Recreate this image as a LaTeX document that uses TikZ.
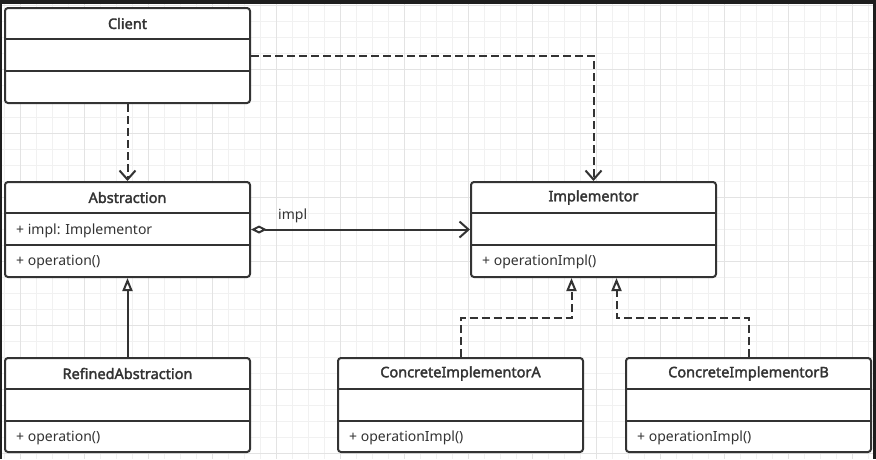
\documentclass[tikz,border=0pt]{standalone}
\usepackage{fontspec}
\setmainfont{Noto Sans}[AutoFakeBold=2.2]
\usetikzlibrary{arrows.meta,positioning,calc}

\definecolor{umlline}{HTML}{333333}
\definecolor{umltext}{HTML}{333333}
\definecolor{gridminor}{HTML}{F1F1F1}
\definecolor{gridmajor}{HTML}{E3E3E3}
\definecolor{framedark}{HTML}{1E1E1E}

\tikzset{
  classbox/.style={draw=umlline, line width=2pt, rounded corners=3pt,
    minimum width=245pt, minimum height=95pt, inner sep=0pt},
  classtitle/.style={font=\fontsize{14.5}{16}\selectfont\bfseries, text=umltext, inner sep=0pt},
  classmember/.style={font=\fontsize{14}{16}\selectfont, text=umltext, anchor=west, inner sep=0pt},
  divider/.style={draw=umlline, line width=2pt},
  solidline/.style={draw=umlline, line width=2pt},
  depline/.style={draw=umlline, line width=2pt, dash pattern=on 8pt off 4pt},
  openhead/.style={-{Straight Barb[length=9pt,width=16pt]}},
  inherithead/.style={-{Triangle[open,length=13pt,width=10pt,fill=white]}},
}

\begin{document}
\begin{tikzpicture}[x=1pt,y=-1pt]
  \useasboundingbox (0,0) rectangle (876,459);
  % background grid
  \fill[white] (0,0) rectangle (876,459);
  \foreach \gx in {0,...,54} \draw[gridminor, line width=0.8pt] ({4.7+16*\gx},0) -- ({4.7+16*\gx},459);
  \foreach \gy in {0,...,28} \draw[gridminor, line width=0.8pt] (0,{5+16*\gy}) -- (876,{5+16*\gy});
  \foreach \gx in {0,...,13} \draw[gridmajor, line width=0.8pt] ({20.7+64*\gx},0) -- ({20.7+64*\gx},459);
  \foreach \gy in {0,...,7} \draw[gridmajor, line width=0.8pt] (0,{5+64*\gy}) -- (876,{5+64*\gy});
  \fill[framedark] (0,0) rectangle (876,4);
  \fill[framedark] (873,0) rectangle (876,459);
  \fill[framedark] (0,0) rectangle (1.5,459);

  % class boxes
  \node[classbox, fill=white] (client) at (127.5,55.5) {};
  \node[classbox, fill=white] (abstraction) at (127.5,229.5) {};
  \node[classbox, fill=white] (implementor) at (593.5,229.5) {};
  \node[classbox, fill=white, minimum height=94pt] (refined) at (127.5,405) {};
  \node[classbox, fill=white, minimum height=94pt] (concrete_a) at (460.5,405) {};
  \node[classbox, fill=white, minimum height=94pt] (concrete_b) at (748.5,405) {};

  % compartments
  \foreach \cls in {client,abstraction,implementor,refined,concrete_a,concrete_b} {
    \draw[divider] ([yshift=-32pt]\cls.north west) -- ([yshift=-32pt]\cls.north east);
    \draw[divider] ([yshift=-64pt]\cls.north west) -- ([yshift=-64pt]\cls.north east);
  }

  % titles
  \node[classtitle] (client_title) at ([yshift=-16.5pt]client.north) {Client};
  \node[classtitle] (abstraction_title) at ([yshift=-16.5pt]abstraction.north) {Abstraction};
  \node[classtitle] (implementor_title) at ([yshift=-16.5pt]implementor.north) {Implementor};
  \node[classtitle] (refined_title) at ([yshift=-16.5pt]refined.north) {RefinedAbstraction};
  \node[classtitle] (concrete_a_title) at ([yshift=-16.5pt]concrete_a.north) {ConcreteImplementorA};
  \node[classtitle] (concrete_b_title) at ([yshift=-16.5pt]concrete_b.north) {ConcreteImplementorB};

  % members
  \node[classmember] (abstraction_attr) at ([xshift=12pt,yshift=-50pt]abstraction.north west) {+ impl: Implementor};
  \node[classmember] (abstraction_op) at ([xshift=12pt,yshift=-81pt]abstraction.north west) {+ operation()};
  \node[classmember] (implementor_op) at ([xshift=12pt,yshift=-81pt]implementor.north west) {+ operationImpl()};
  \node[classmember] (refined_op) at ([xshift=12pt,yshift=-81pt]refined.north west) {+ operation()};
  \node[classmember] (concrete_a_op) at ([xshift=12pt,yshift=-81pt]concrete_a.north west) {+ operationImpl()};
  \node[classmember] (concrete_b_op) at ([xshift=12pt,yshift=-81pt]concrete_b.north west) {+ operationImpl()};

  % dependencies
  \draw[depline, openhead] (client) -- (abstraction);
  \draw[depline, openhead] (client.east) -| (implementor.north);

  % aggregation
  \draw[solidline, {Diamond[open,length=16pt,width=8pt,fill=white]}-{Straight Barb[length=9pt,width=16pt]}]
    (abstraction.east) -- (implementor.west);
  \node[classmember, anchor=west] (impl_label) at ([xshift=27pt,yshift=14pt]abstraction.east) {impl};

  % generalization and realization
  \draw[solidline, inherithead] (refined) -- (abstraction);
  \coordinate (impl_in_a) at ([xshift=-22pt]implementor.south);
  \coordinate (impl_in_b) at ([xshift=23pt]implementor.south);
  \draw[depline, inherithead] (concrete_a.north) -- ++(0,-39) -| (impl_in_a);
  \draw[depline, inherithead] (concrete_b.north) -- ++(0,-39) -| (impl_in_b);
\end{tikzpicture}
\end{document}
